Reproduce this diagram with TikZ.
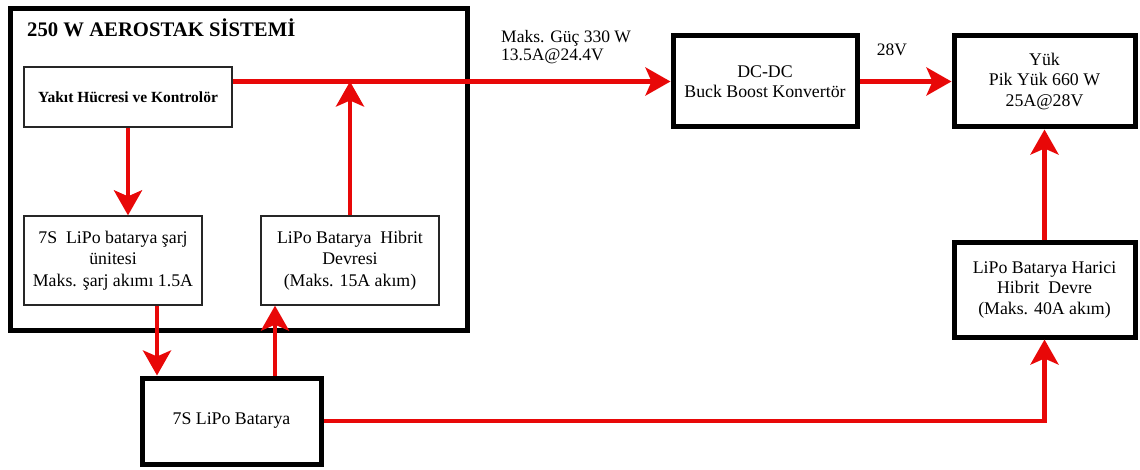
\documentclass[tikz,border=0pt]{standalone}
\usepackage{fontspec}
\setmainfont{Liberation Serif}
\usetikzlibrary{arrows.meta}
\definecolor{arrred}{RGB}{232,8,8}
\tikzset{
  thickbox/.style={draw=black, line width=5pt, fill=white, inner sep=0pt, align=center,
    font=\fontsize{17.8}{20.5}\selectfont},
  thinbox/.style={draw=black!85, line width=1.3pt, fill=white, inner sep=0pt, align=center,
    font=\fontsize{17.8}{21.5}\selectfont},
  arr/.style={draw=arrred, line width=4.5pt, -{Stealth[length=25pt,width=28pt,inset=6pt]}},
  lbl/.style={inner sep=0pt, font=\fontsize{17.5}{18.5}\selectfont}
}
\begin{document}
\begin{tikzpicture}[x=1pt,y=-1pt]
\useasboundingbox (0,0) rectangle (1140,470);
% outer system box
\node[thickbox, minimum width=457pt, minimum height=321pt] (sys) at (238.5,169.5) {};
\node[anchor=base west, inner sep=0pt, font=\fontsize{20.7}{22}\selectfont\bfseries] (title) at (27,37) {250 W AEROSTAK SİSTEMİ};
% inner boxes
\node[thinbox, minimum width=208pt, minimum height=60pt, font=\fontsize{15.5}{18}\selectfont\bfseries] (fc) at (128,97) {Yakıt Hücresi ve Kontrolör};
\node[thinbox, minimum width=178pt, minimum height=89pt] (chg) at (113,260.5) {7S\ \ LiPo batarya şarj\\ ünitesi\\Maks. şarj akımı 1.5A};
\node[thinbox, minimum width=178pt, minimum height=89pt] (hyb) at (350,260.5) {LiPo Batarya\ \ Hibrit\\Devresi\\(Maks. 15A akım)};
% outer boxes
\node[thickbox, minimum width=184pt, minimum height=91pt] (dc) at (765,81.5) {DC-DC\\Buck Boost Konvertör};
\node[thickbox, minimum width=181pt, minimum height=91pt] (yuk) at (1044.5,81.5) {Yük\\Pik Yük 660 W\\25A@28V};
\node[thickbox, minimum width=181pt, minimum height=94pt] (har) at (1044.5,290) {LiPo Batarya Harici\\Hibrit\ \ Devre\\(Maks. 40A akım)};
\node[thickbox, minimum width=179pt, minimum height=86pt] (bat) at (231.5,421) {7S LiPo Batarya};
% labels
\node[lbl, anchor=north west, align=left] (pw) at (501,30) {Maks. Güç 330 W\\13.5A@24.4V};
\node[lbl] (v28) at (892,50) {28V};
% connectors
\coordinate (mainend) at (fc.east |- dc.west);
\draw[arr] (mainend) -- (dc.west);
\draw[arr] (hyb.north) -- (hyb.north |- dc.west);
\draw[arr] (dc.east) -- (yuk.west);
\draw[arr] (fc.south) -- (fc.south |- chg.north);
\draw[arr] ([xshift=44pt]chg.south) -- ([xshift=44pt]chg.south |- bat.north);
\draw[arr] ([xshift=43.5pt]bat.north) -- ([xshift=43.5pt]bat.north |- hyb.south);
\draw[arr] (bat.east) -| (har.south);
\draw[arr] (har.north) -- (yuk.south);
\end{tikzpicture}
\end{document}
